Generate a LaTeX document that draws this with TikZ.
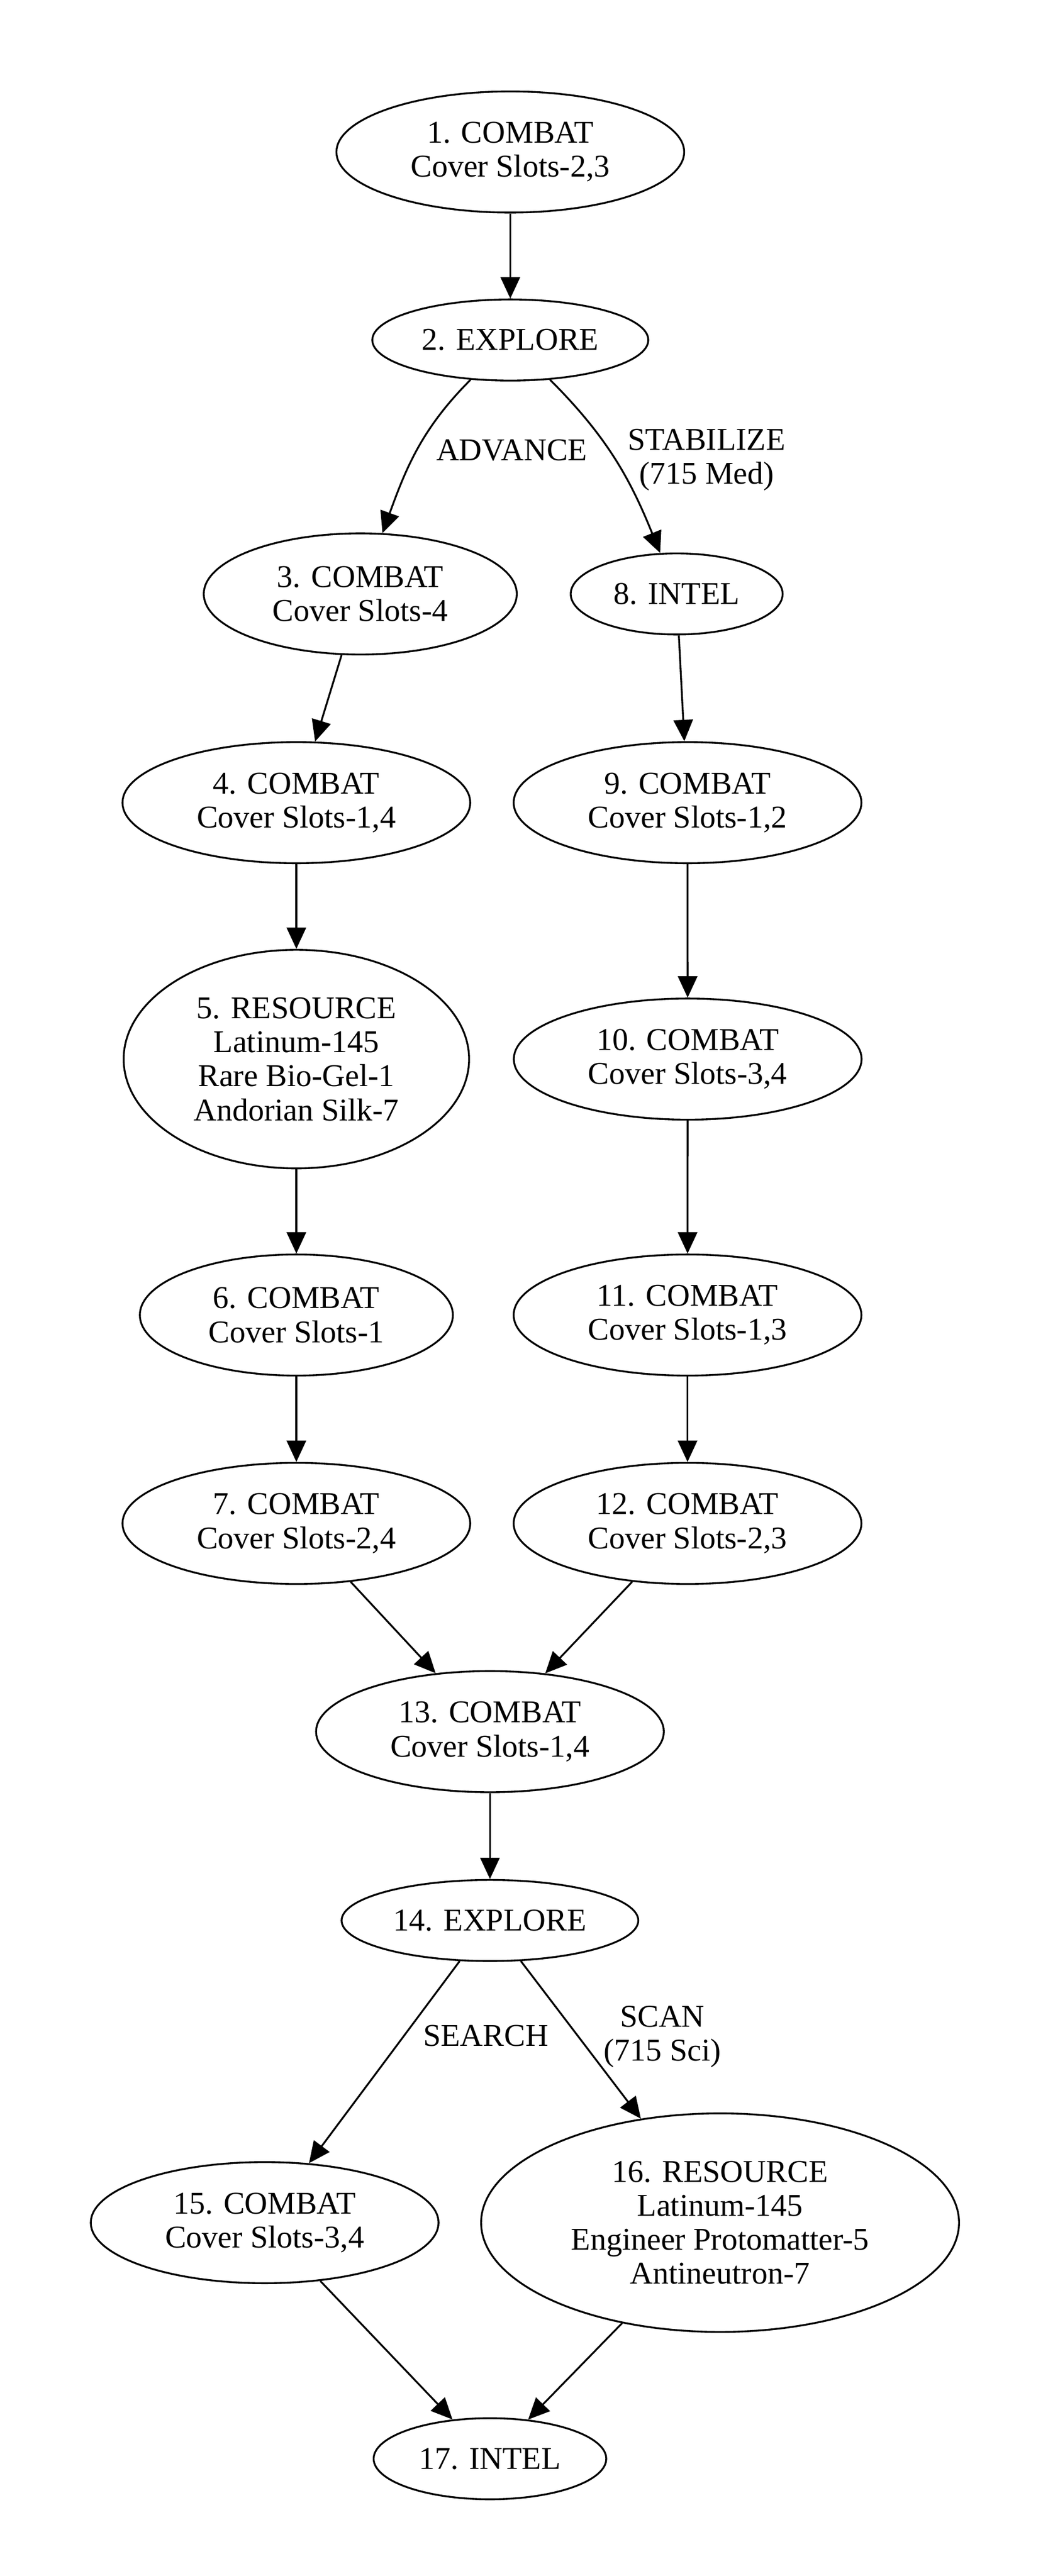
\documentclass[tikz,border=0pt]{standalone}
\usepackage{fontspec}
\setmainfont{Liberation Serif}
\usetikzlibrary{positioning,arrows.meta,shapes}

\begin{document}
\begin{tikzpicture}[
	ar/.style={-{Triangle[length=12.8pt,width=11.6pt]},line width=1.1pt},
	mynode/.style={
	  draw,
	  ellipse,
	  line width=1.1pt,
	  inner sep=0pt,
	  align=center,
	  font=\fontsize{19pt}{20.4pt}\selectfont
	  },
	combat/.style={mynode,minimum width=208.4pt,minimum height=72.6pt},
	short/.style={mynode,minimum width=187.6pt,minimum height=72.6pt},
	single/.style={mynode,minimum height=48.6pt},
	resource/.style={mynode,minimum height=131pt},
	lbl/.style={inner sep=0pt,align=center,font=\fontsize{19pt}{20.4pt}\selectfont}
	]
		\useasboundingbox (0,0) rectangle (628pt,-1544pt);

		\node[combat] (n1) at (305.8pt,-91.1pt) {1. COMBAT\\Cover Slots-2,3};
		\node[single,minimum width=165.4pt,below=51pt of n1] (n2) {2. EXPLORE};
		\node[short,below=90.5pt of n2,xshift=-89.9pt] (n3) {3. COMBAT\\Cover Slots-4};
		\node[single,minimum width=127pt,right=31.2pt of n3] (n8) {8. INTEL};
		\node[combat,below=51.4pt of n3,xshift=-38.3pt] (n4) {4. COMBAT\\Cover Slots-1,4};
		\node[combat,right=24.9pt of n4] (n9) {9. COMBAT\\Cover Slots-1,2};
		\node[resource,minimum width=207pt,below=50.8pt of n4] (n5) {5. RESOURCE\\Latinum-145\\Rare Bio-Gel-1\\Andorian Silk-7};
		\node[combat,right=25.7pt of n5] (n10) {10. COMBAT\\Cover Slots-3,4};
		\node[short,below=50.5pt of n5] (n6) {6. COMBAT\\Cover Slots-1};
		\node[combat,right=35.3pt of n6] (n11) {11. COMBAT\\Cover Slots-1,3};
		\node[combat,below=51.2pt of n6] (n7) {7. COMBAT\\Cover Slots-2,4};
		\node[combat,right=24.9pt of n7] (n12) {12. COMBAT\\Cover Slots-2,3};
		\node[combat,below=51.1pt of n7,xshift=116pt] (n13) {13. COMBAT\\Cover Slots-1,4};
		\node[single,minimum width=177.8pt,below=51.5pt of n13] (n14) {14. EXPLORE};
		\node[combat,below=119.4pt of n14,xshift=-135pt] (n15) {15. COMBAT\\Cover Slots-3,4};
		\node[resource,minimum width=286.4pt,right=24.4pt of n15] (n16) {16. RESOURCE\\Latinum-145\\Engineer Protomatter-5\\Antineutron-7};
		\node[single,minimum width=139.4pt,below=79.8pt of n15,xshift=135pt] (n17) {17. INTEL};

		\draw[ar]
			(n1) -- (n2);
		\draw[ar]
			(n2) to[out=-135,in=70] node[lbl,right=11pt] {ADVANCE} (n3);
		\draw[ar]
			(n2) to[out=-45,in=112] node[lbl,right=7pt] {STABILIZE\\(715 Med)} (n8);
		\draw[ar]
			(n3) -- (n4);
		\draw[ar]
			(n4) -- (n5);
		\draw[ar]
			(n5) -- (n6);
		\draw[ar]
			(n6) -- (n7);
		\draw[ar]
			(n8) -- (n9);
		\draw[ar]
			(n9) -- (n10);
		\draw[ar]
			(n10) -- (n11);
		\draw[ar]
			(n11) -- (n12);
		\draw[ar]
			(n7) -- (n13);
		\draw[ar]
			(n12) -- (n13);
		\draw[ar]
			(n13) -- (n14);
		\draw[ar]
			(n14) -- node[lbl,pos=0.37,right=11pt] {SEARCH} (n15);
		\draw[ar]
			(n14) -- node[lbl,pos=0.48,right=14.6pt] {SCAN\\(715 Sci)} (n16);
		\draw[ar]
			(n15) -- (n17);
		\draw[ar]
			(n16) -- (n17);
	\end{tikzpicture}
\end{document}
